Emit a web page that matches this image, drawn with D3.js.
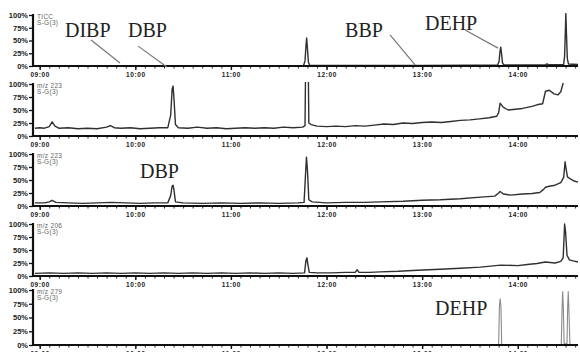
<!DOCTYPE html>
<html><head><meta charset="utf-8">
<script src="https://cdn.jsdelivr.net/npm/d3@7"></script>
<style>body{margin:0;background:#fff}svg{display:block}</style>
</head><body><svg id="c" width="580" height="352"></svg>
<script>
// ---- data ----
const timeTicks = [9, 10, 11, 12, 13, 14];
const timeLabels = ["09:00", "10:00", "11:00", "12:00", "13:00", "14:00"];
const pctTicks = [0, 25, 50, 75, 100];
const pctLabels = ["0%", "25%", "50%", "75%", "100%"];
const traceLabels = [["TICC", "S-G(3)"], ["m/z 223", "S-G(3)"], ["m/z 223", "S-G(3)"], ["m/z 206", "S-G(3)"], ["m/z 279", "S-G(3)"]];

const ticc = [[8.93,0.5],[9.5,0.6],[10.0,0.8],[10.5,0.5],[11.0,0.8],[11.5,0.6],[11.76,1],[11.775,10],[11.785,40],[11.792,55],[11.80,35],[11.81,8],[11.825,1],[12.5,1],[13.0,1.2],[13.5,1.5],[13.79,2],[13.805,10],[13.815,30],[13.822,37],[13.83,25],[13.84,6],[13.855,2],[14.2,2],[14.29,2.5],[14.305,4],[14.32,2.5],[14.48,3],[14.49,20],[14.498,70],[14.503,103],[14.51,60],[14.518,15],[14.53,4],[14.63,3]];

const mz223a = [[8.95,15],[9.0,16],[9.05,15],[9.10,18],[9.13,27],[9.16,19],[9.2,15],[9.3,16],[9.4,14],[9.5,15],[9.6,14],[9.7,17],[9.74,20],[9.78,16],[9.85,15],[9.95,16],[10.05,14],[10.15,15],[10.25,16],[10.34,16],[10.37,40],[10.385,90],[10.395,96],[10.405,70],[10.42,22],[10.45,16],[10.55,15],[10.65,17],[10.75,15],[10.85,16],[10.95,14],[11.05,15],[11.15,16],[11.25,15],[11.35,16],[11.45,15],[11.55,17],[11.65,16],[11.75,17],[11.775,20],[11.78,115],[11.81,115],[11.815,25],[11.84,22],[11.9,19],[12.0,18],[12.1,19],[12.2,18],[12.3,20],[12.4,19],[12.5,21],[12.6,23],[12.7,22],[12.8,25],[12.9,24],[13.0,26],[13.1,27],[13.2,26],[13.3,28],[13.4,30],[13.5,31],[13.6,33],[13.7,35],[13.78,38],[13.80,45],[13.815,63],[13.85,55],[13.9,50],[13.95,51],[14.0,52],[14.05,53],[14.1,55],[14.15,57],[14.2,60],[14.26,62],[14.29,86],[14.33,88],[14.38,81],[14.42,79],[14.45,85],[14.475,102]];

const mz223b = [[8.95,6],[9.05,6],[9.10,8],[9.13,11],[9.17,7],[9.3,6],[9.45,5],[9.6,6],[9.75,7],[9.9,6],[10.05,5],[10.2,6],[10.34,6],[10.37,20],[10.385,38],[10.395,40],[10.405,30],[10.42,8],[10.5,6],[10.7,5],[10.9,6],[11.1,5],[11.3,6],[11.5,5],[11.7,6],[11.765,7],[11.78,60],[11.79,94],[11.80,70],[11.815,12],[11.85,8],[12.0,6],[12.2,7],[12.4,7],[12.56,8],[12.8,9],[13.0,11],[13.19,12],[13.4,14],[13.61,17],[13.76,19],[13.80,25],[13.815,28],[13.85,23],[13.92,21],[14.05,23],[14.15,24],[14.23,26],[14.27,32],[14.29,36],[14.33,38],[14.39,40],[14.45,45],[14.48,55],[14.495,85],[14.505,72],[14.52,56],[14.55,52],[14.59,48],[14.63,46]];

const mz206 = [[8.95,5],[9.1,6],[9.25,5],[9.4,6],[9.55,5],[9.7,6],[9.85,5],[10.0,6],[10.15,5],[10.3,6],[10.45,5],[10.6,6],[10.75,5],[10.9,6],[11.05,5],[11.2,6],[11.35,5],[11.5,6],[11.65,5],[11.77,6],[11.785,30],[11.795,35],[11.805,22],[11.82,7],[11.9,6],[12.05,6],[12.2,7],[12.30,7],[12.32,12],[12.34,7],[12.45,7],[12.56,8],[12.75,9],[12.95,11],[13.19,13],[13.4,15],[13.61,17],[13.82,21],[14.0,20],[14.1,22],[14.2,24],[14.29,27],[14.39,25],[14.45,28],[14.475,35],[14.49,100],[14.50,85],[14.515,40],[14.54,31],[14.58,29],[14.63,27]];

const mz279 = [[8.93,0],[13.80,0],[13.808,70],[13.816,84],[13.824,70],[13.832,0],[14.455,0],[14.464,70],[14.47,97],[14.476,70],[14.485,2],[14.515,2],[14.522,70],[14.528,97],[14.534,70],[14.545,3],[14.56,0],[14.63,0]];

const traces = [ticc, mz223a, mz223b, mz206, mz279];

// annotations: [panel, label, textTime, textPct, lineFrom[t,p], lineTo[t,p]]
const annotations = [
  [0, "DIBP", 9.265, 57, [9.537, 51], [9.84, 6]],
  [0, "DBP", 9.924, 57, [10.03, 39], [10.33, -2]],
  [0, "BBP", 12.194, 57, [12.664, 61], [12.926, 2]],
  [0, "DEHP", 13.03, 70.6, [13.449, 70.6], [13.794, 35]],
  [2, "DBP", 10.05, 54, null, null],
  [4, "DEHP", 13.135, 54.5, null, null]
];

// ---- layout ----
const panelTop = [15, 84, 154, 224, 290];
const panelBottom = [66, 136, 206, 276, 345];
const left = 33, right = 578;

const svg = d3.select("#c");
const x = d3.scaleLinear().domain([8.93, 14.63]).range([left, right]);
const minorTicks = d3.range(90, 147).map(d => d / 10);

traces.forEach((data, i) => {
  const y = d3.scaleLinear().domain([0, 100]).range([panelBottom[i], panelTop[i]]);
  const g = svg.append("g");

  g.append("clipPath").attr("id", "clip" + i)
    .append("rect").attr("x", left).attr("y", panelTop[i] - 2)
    .attr("width", right - left + 2).attr("height", panelBottom[i] - panelTop[i] + 2);

  // trace
  const line = d3.line().x(d => x(d[0])).y(d => y(d[1]));
  g.append("path").datum(data)
    .attr("clip-path", `url(#clip${i})`)
    .attr("d", line)
    .attr("fill", "none")
    .attr("stroke", i === 4 ? "#8a8a8a" : "#303030")
    .attr("stroke-width", i === 4 ? 1.1 : 1.4)
    .attr("stroke-linejoin", "round");

  // bottom axis minor ticks
  const ax = d3.axisBottom(x).tickValues(minorTicks).tickSize(2.5).tickFormat("");
  const gm = g.append("g").attr("transform", `translate(0,${panelBottom[i]})`).call(ax);
  gm.select(".domain").remove();
  gm.selectAll(".tick line").attr("stroke", "#222").attr("stroke-width", 1);

  // major ticks with labels
  const axM = d3.axisBottom(x).tickValues(timeTicks).tickSize(4)
    .tickFormat((d, k) => timeLabels[k]).tickPadding(2);
  const gM = g.append("g").attr("transform", `translate(0,${panelBottom[i]})`).call(axM);
  gM.select(".domain").remove();
  gM.selectAll(".tick line").attr("stroke", "#111").attr("stroke-width", 1.4);
  gM.selectAll(".tick text").attr("font-family", "Liberation Sans, Arial, sans-serif")
    .attr("font-size", "6.5px").attr("font-weight", "bold").attr("fill", "#222")
    .attr("letter-spacing", "0.6px");

  // baseline
  g.append("line").attr("x1", left).attr("x2", right)
    .attr("y1", panelBottom[i]).attr("y2", panelBottom[i])
    .attr("stroke", "#111").attr("stroke-width", 2);

  // left axis
  const ay = d3.axisLeft(y).tickValues(pctTicks).tickSize(4)
    .tickFormat((d, k) => pctLabels[k]).tickPadding(1);
  const gy = g.append("g").attr("transform", `translate(${left},0)`).call(ay);
  gy.select(".domain").remove();
  gy.selectAll(".tick line").attr("stroke", "#111").attr("stroke-width", 1.3);
  gy.selectAll(".tick text").attr("font-family", "Liberation Sans, Arial, sans-serif")
    .attr("font-size", "7.5px").attr("font-weight", "bold").attr("fill", "#222");
  g.append("line").attr("x1", left).attr("x2", left)
    .attr("y1", panelTop[i] - 1).attr("y2", panelBottom[i] + 1)
    .attr("stroke", "#111").attr("stroke-width", 2.2);

  // trace label
  traceLabels[i].forEach((t, k) => {
    g.append("text").attr("x", left + 4).attr("y", panelTop[i] + 4 + k * 6)
      .attr("font-family", "Liberation Sans, Arial, sans-serif").attr("font-size", "6.5px")
      .attr("fill", "#666").attr("letter-spacing", "0.3px").text(t);
  });
});

// annotations
annotations.forEach(a => {
  const i = a[0];
  const y = d3.scaleLinear().domain([0, 100]).range([panelBottom[i], panelTop[i]]);
  svg.append("text").attr("x", x(a[2])).attr("y", y(a[3]))
    .attr("font-family", "Liberation Serif, Times New Roman, serif")
    .attr("font-size", "20px").attr("fill", "#222").text(a[1]);
  if (a[4]) {
    svg.append("line").attr("x1", x(a[4][0])).attr("y1", y(a[4][1]))
      .attr("x2", x(a[5][0])).attr("y2", y(a[5][1]))
      .attr("stroke", "#777").attr("stroke-width", 1.2);
  }
});
</script></body></html>
